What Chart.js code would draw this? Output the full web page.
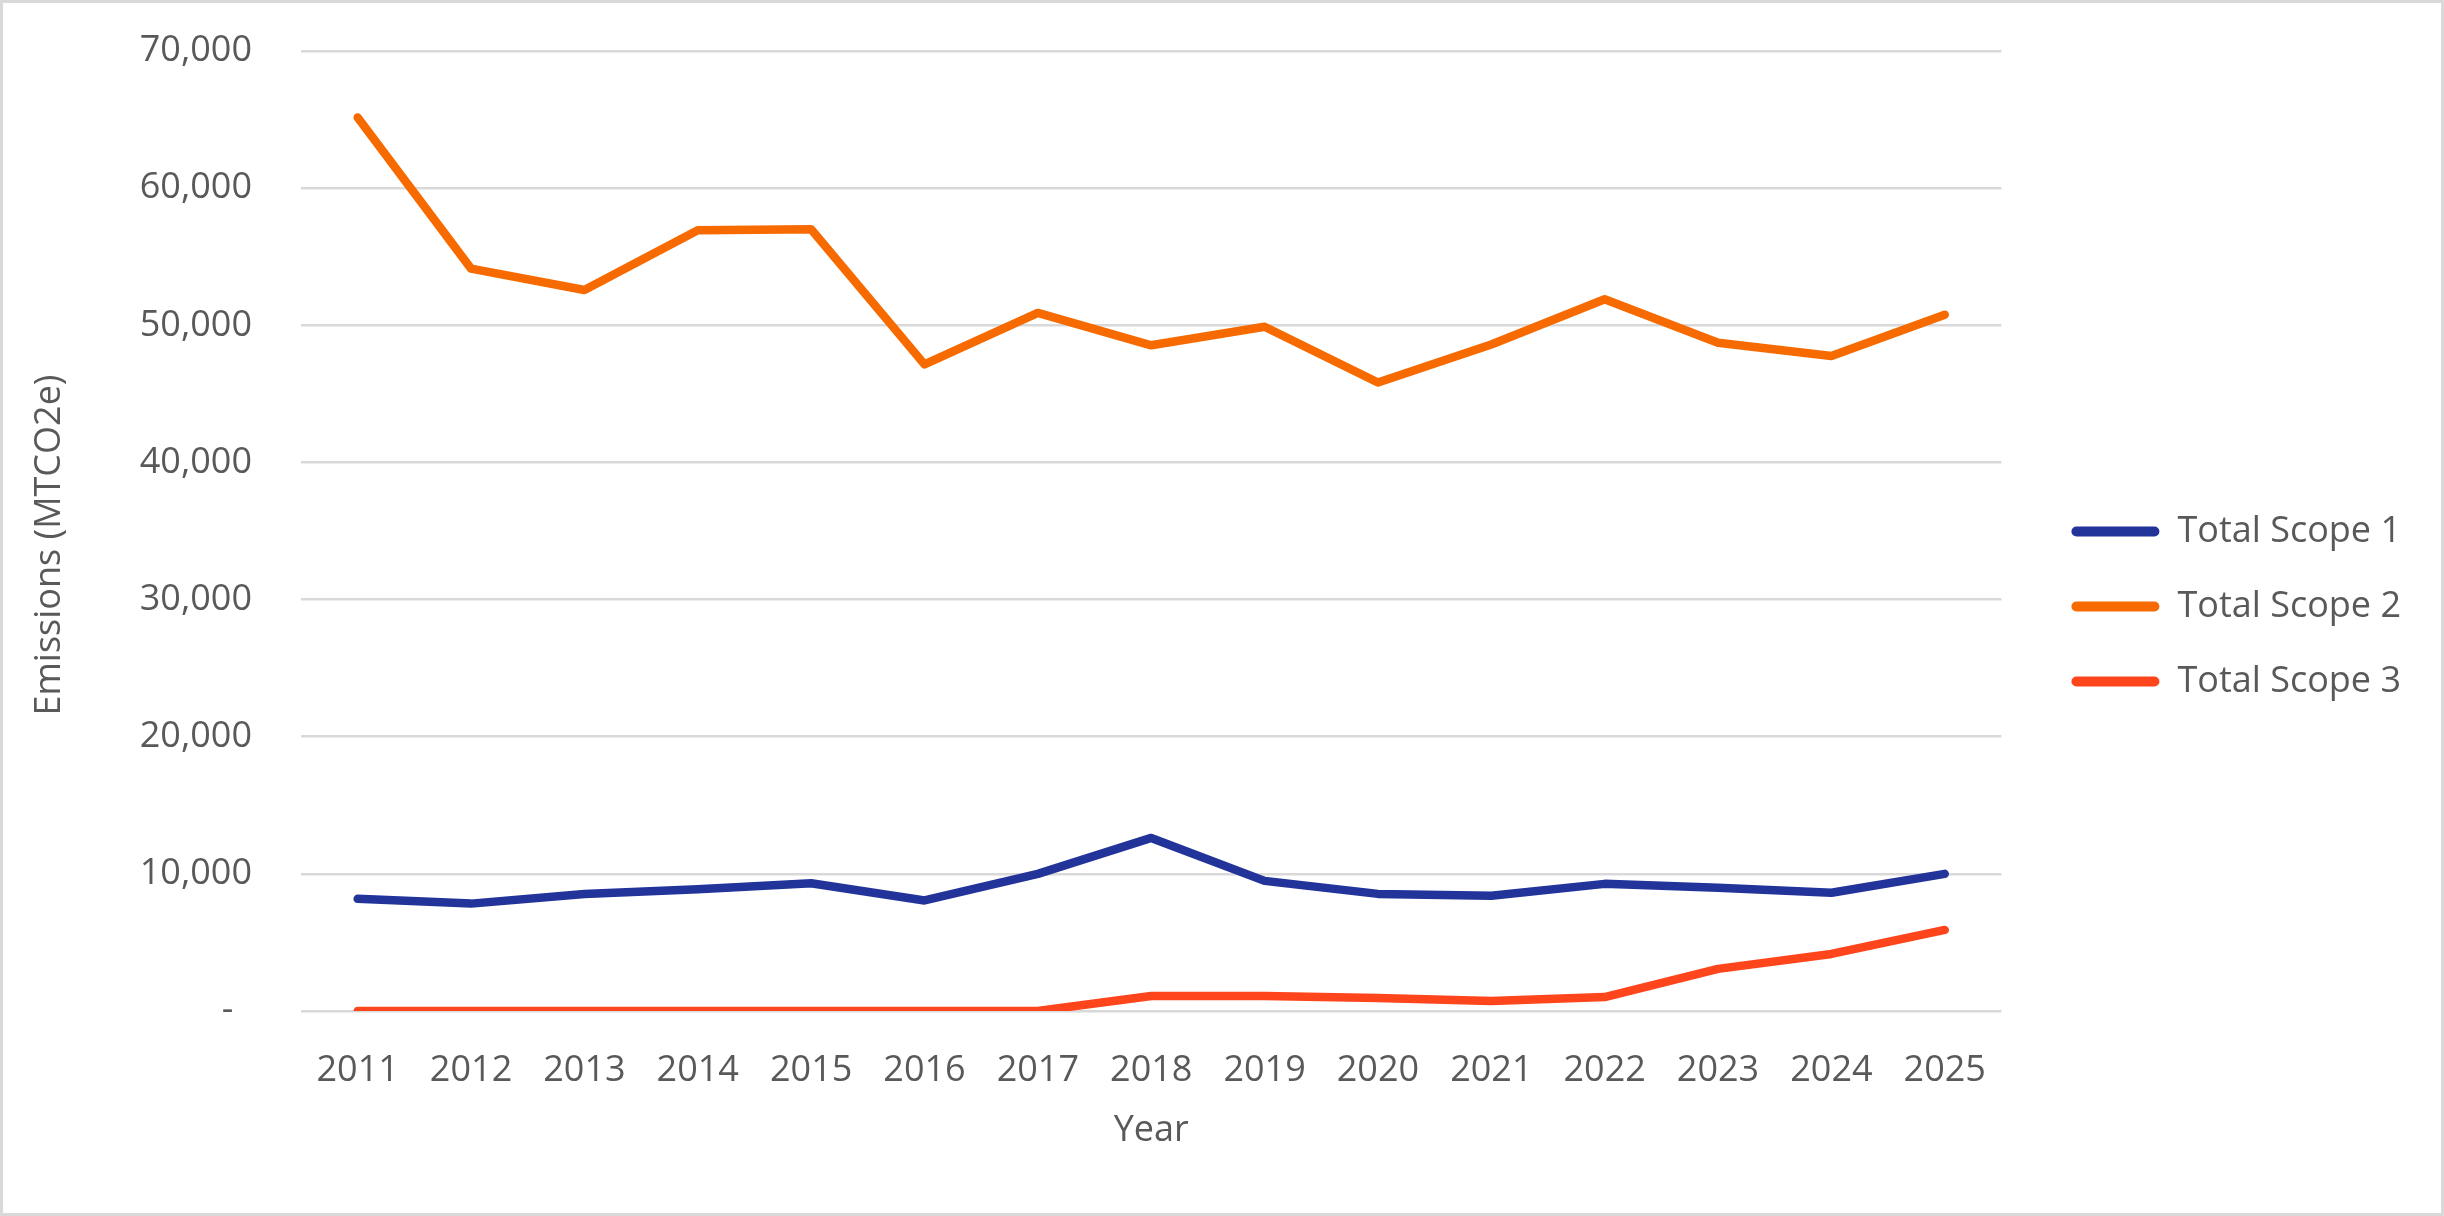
<!DOCTYPE html>
<html>
<head>
<meta charset="utf-8">
<script src="https://cdn.jsdelivr.net/npm/chart.js@4.4.1/dist/chart.umd.min.js"></script>
<style>
  html, body { margin: 0; padding: 0; background: #fff; }
  #wrap { position: relative; width: 2444px; height: 1216px; }
  #frame {
    position: absolute; left: 0; top: 0; width: 2444px; height: 1216px;
    box-sizing: border-box; border: 3px solid #d9d9d9; pointer-events: none;
  }
</style>
</head>
<body>
<div id="wrap">
  <canvas id="emissionsChart"></canvas>
  <div id="frame"></div>
</div>
<script>
// chart data
const years = ['2011', '2012', '2013', '2014', '2015', '2016', '2017', '2018',
  '2019', '2020', '2021', '2022', '2023', '2024', '2025'];
const scope1 = [8180, 7830, 8530, 8870, 9320, 8060, 10000, 12620, 9490, 8540, 8400, 9270, 8980, 8620, 10000];
const scope2 = [65150, 54130, 52570, 56930, 57000, 47150, 50900, 48540, 49890, 45830, 48600, 51900, 48720, 47760, 50770];
const scope3 = [0, 0, 0, 0, 0, 0, 0, 1100, 1100, 950, 730, 1020, 3070, 4160, 5910];
const yTickLabels = ['-  ', '10,000', '20,000', '30,000', '40,000', '50,000', '60,000', '70,000'];

const textColor = '#595959';
const font = { family: '"Open Sans", sans-serif', size: 36 };

// push the legend a bit right of where chart.js puts it, like the Excel original
const legendNudge = {
  id: 'legendNudge',
  afterLayout(chart) {
    const lg = chart.legend;
    if (lg) {
      lg.left += 31;
      lg.right += 31;
      lg.top += 3;
      lg.bottom += 3;
    }
  }
};

function lineSet(label, data, color) {
  return {
    label: label,
    data: data,
    borderColor: color,
    backgroundColor: color,
    borderWidth: 8.5,
    borderCapStyle: 'round',
    borderJoinStyle: 'round',
    pointRadius: 0,
    pointHoverRadius: 0,
    tension: 0,
    fill: false
  };
}

new Chart(document.getElementById('emissionsChart'), {
  type: 'line',
  data: {
    labels: years,
    datasets: [
      lineSet('Total Scope 1', scope1, '#22339a'),
      lineSet('Total Scope 2', scope2, '#f76a00'),
      lineSet('Total Scope 3', scope3, '#ff451c')
    ]
  },
  options: {
    responsive: true,
    maintainAspectRatio: false,
    devicePixelRatio: 1,
    animation: false,
    layout: { padding: { left: 0, top: 51, right: 64, bottom: 60 } },
    scales: {
      x: {
        offset: true,
        grid: { display: false },
        border: { display: false },
        ticks: { color: textColor, font: font, padding: 30, maxRotation: 0, autoSkip: false },
        title: { display: true, text: 'Year', color: textColor, font: font, padding: { top: 20, bottom: 4 } },
        afterFit: (scale) => { scale.height = 145; }
      },
      y: {
        min: 0,
        max: 70000,
        // invisible tick marks keep the labels away from the plot
        grid: { color: '#d9d9d9', lineWidth: 2.5, drawTicks: true, tickLength: 31, tickColor: 'rgba(0,0,0,0)' },
        border: { display: false },
        ticks: {
          stepSize: 10000,
          color: textColor,
          font: font,
          padding: 18,
          callback: (value, index) => yTickLabels[index]
        },
        title: {
          display: true,
          // trailing spaces sit the title a little lower, as in the original
          text: 'Emissions (MTCO2e)   ',
          color: textColor,
          font: font,
          padding: { top: 28, bottom: 10 }
        },
        afterFit: (scale) => { scale.width = 301; }
      }
    },
    plugins: {
      legend: {
        position: 'right',
        labels: {
          color: textColor,
          font: font,
          boxWidth: 88,
          boxHeight: 10,
          padding: 39,
          useBorderRadius: true,
          borderRadius: 5,
          generateLabels: (chart) =>
            Chart.defaults.plugins.legend.labels.generateLabels(chart).map(item => ({ ...item, lineWidth: 0 }))
        }
      },
      tooltip: { enabled: false }
    }
  },
  plugins: [legendNudge]
});
</script>
</body>
</html>
